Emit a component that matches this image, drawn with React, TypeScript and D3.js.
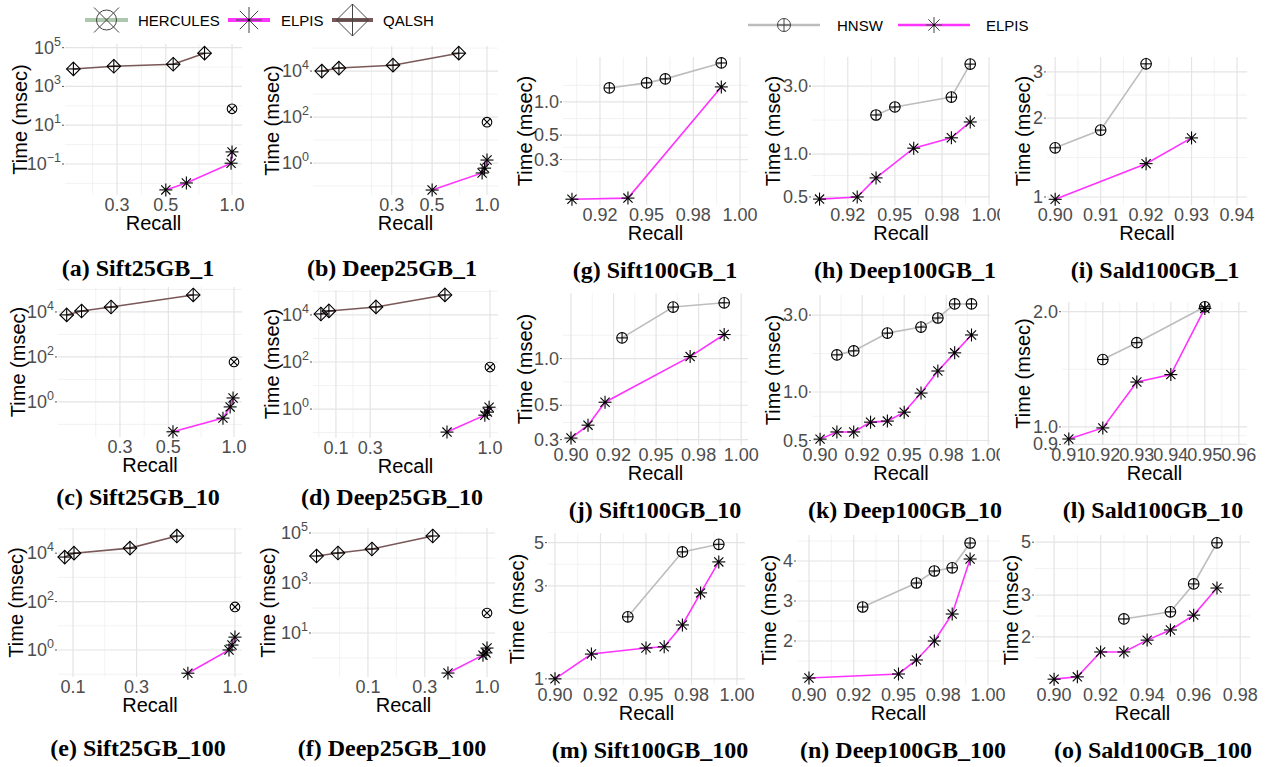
import React from 'react';
import * as d3 from 'd3';

// ---------------- DATA ----------------
// (a) Sift25GB_1
const aQalshRecall = [0.19, 0.29, 0.54, 0.75];
const aQalshTime = [8000, 11000, 14000, 52000];
const aHerculesRecall = [1.0];
const aHerculesTime = [70];
const aElpisRecall = [0.5, 0.62, 0.99, 1.0];
const aElpisTime = [0.0046, 0.0105, 0.11, 0.42];
// (b) Deep25GB_1
const bQalshRecall = [0.124, 0.154, 0.305, 0.7];
const bQalshTime = [10000, 13500, 18000, 60000];
const bHerculesRecall = [1.0];
const bHerculesTime = [60];
const bElpisRecall = [0.5, 0.94, 0.97, 1.0];
const bElpisTime = [0.067, 0.37, 0.6, 1.35];
// (c) Sift25GB_10
const cQalshRecall = [0.171, 0.2, 0.273, 0.65];
const cQalshTime = [7400, 11000, 16600, 57000];
const cHerculesRecall = [1.0];
const cHerculesTime = [60];
const cElpisRecall = [0.525, 0.89, 0.96, 0.99];
const cElpisTime = [0.047, 0.19, 0.6, 1.5];
// (d) Deep25GB_10
const dQalshRecall = [0.012, 0.059, 0.334, 0.737];
const dQalshTime = [11000, 14800, 21900, 70800];
const dHerculesRecall = [1.0];
const dHerculesTime = [61];
const dElpisRecall = [0.749, 0.97, 0.985, 0.995];
const dElpisTime = [0.105, 0.55, 0.74, 1.2];
// (e) Sift25GB_100
const eQalshRecall = [0.084, 0.102, 0.272, 0.518];
const eQalshTime = [6900, 10000, 16200, 51000];
const eHerculesRecall = [1.0];
const eHerculesTime = [60];
const eElpisRecall = [0.593, 0.94, 0.97, 1.0];
const eElpisTime = [0.11, 1.0, 1.6, 3.4];
// (f) Deep25GB_100
const fQalshRecall = [0.037, 0.056, 0.108, 0.35];
const fQalshTime = [12000, 15800, 22900, 75900];
const fHerculesRecall = [1.0];
const fHerculesTime = [63];
const fElpisRecall = [0.47, 0.925, 0.98, 1.0];
const fElpisTime = [0.25, 1.3, 1.6, 2.5];
// (g) Sift100GB_1
const gHnswRecall = [0.93, 0.95, 0.96, 0.99];
const gHnswTime = [1.34, 1.49, 1.62, 2.26];
const gElpisRecall = [0.91, 0.94, 0.99];
const gElpisTime = [0.131, 0.134, 1.37];
// (h) Deep100GB_1
const hHnswRecall = [0.94, 0.95, 0.98, 0.99];
const hHnswTime = [1.88, 2.14, 2.51, 4.28];
const hElpisRecall = [0.91, 0.93, 0.94, 0.96, 0.98, 0.99];
const hElpisTime = [0.483, 0.5, 0.68, 1.1, 1.3, 1.68];
// (i) Sald100GB_1
const iHnswRecall = [0.9, 0.91, 0.92];
const iHnswTime = [1.54, 1.8, 3.22];
const iElpisRecall = [0.9, 0.92, 0.93];
const iElpisTime = [0.98, 1.34, 1.68];
// (j) Sift100GB_10
const jHnswRecall = [0.93, 0.96, 0.99];
const jHnswTime = [1.36, 2.15, 2.29];
const jElpisRecall = [0.9, 0.91, 0.92, 0.97, 0.99];
const jElpisTime = [0.307, 0.372, 0.523, 1.03, 1.43];
// (k) Deep100GB_10
const kHnswRecall = [0.91, 0.92, 0.94, 0.96, 0.97, 0.98, 0.99];
const kHnswTime = [1.7, 1.8, 2.32, 2.53, 2.88, 3.52, 3.52];
const kElpisRecall = [0.9, 0.91, 0.92, 0.93, 0.94, 0.95, 0.96, 0.97, 0.98, 0.99];
const kElpisTime = [0.51, 0.565, 0.565, 0.65, 0.66, 0.75, 0.985, 1.35, 1.75, 2.26];
// (l) Sald100GB_10
const lHnswRecall = [0.92, 0.93, 0.95];
const lHnswTime = [1.5, 1.66, 2.06];
const lElpisRecall = [0.91, 0.92, 0.93, 0.94, 0.95];
const lElpisTime = [0.93, 0.994, 1.31, 1.37, 2.04];
// (m) Sift100GB_100
const mHnswRecall = [0.94, 0.97, 0.99];
const mHnswTime = [2.08, 4.48, 4.9];
const mElpisRecall = [0.9, 0.92, 0.95, 0.96, 0.97, 0.98, 0.99];
const mElpisTime = [1.0, 1.34, 1.44, 1.46, 1.89, 2.76, 3.98];
// (n) Deep100GB_100
const nHnswRecall = [0.93, 0.96, 0.97, 0.98, 0.99];
const nHnswTime = [2.85, 3.45, 3.75, 3.83, 4.45];
const nElpisRecall = [0.9, 0.95, 0.96, 0.97, 0.98, 0.99];
const nElpisTime = [1.075, 1.175, 1.525, 2.0, 2.675, 4.05];
// (o) Sald100GB_100
const oHnswRecall = [0.93, 0.95, 0.96, 0.97];
const oHnswTime = [2.38, 2.55, 3.34, 4.97];
const oElpisRecall = [0.9, 0.91, 0.92, 0.93, 0.94, 0.95, 0.96, 0.97];
const oElpisTime = [1.33, 1.36, 1.73, 1.73, 1.94, 2.14, 2.47, 3.21];

// tick values / labels
const recallTicksA = [0.3, 0.5, 1.0];
const recallLabelsA = ['0.3', '0.5', '1.0'];
const recallTicksB = [0.1, 0.3, 1.0];
const recallLabelsB = ['0.1', '0.3', '1.0'];
const recallTicks100 = [0.9, 0.925, 0.95, 0.975, 1.0];
const recallLabels100 = ['0.90', '0.92', '0.95', '0.98', '1.00'];
const recallTicksI = [0.9, 0.91, 0.92, 0.93, 0.94];
const recallLabelsI = ['0.90', '0.91', '0.92', '0.93', '0.94'];
const recallTicksL = [0.91, 0.92, 0.93, 0.94, 0.95, 0.96];
const recallLabelsL = ['0.91', '0.92', '0.93', '0.94', '0.95', '0.96'];
const recallTicksO = [0.9, 0.92, 0.94, 0.96, 0.98];
const recallLabelsO = ['0.90', '0.92', '0.94', '0.96', '0.98'];

const timeTicksOdd = [0.1, 10, 1000, 100000];
const timeLabelsOdd = ['10^−1', '10^1', '10^3', '10^5'];
const timeTicksEven = [1, 100, 10000];
const timeLabelsEven = ['10^0', '10^2', '10^4'];
const timeTicksF = [10, 1000, 100000];
const timeLabelsF = ['10^1', '10^3', '10^5'];
const timeTicksG = [0.3, 0.5, 1.0];
const timeLabelsG = ['0.3', '0.5', '1.0'];
const timeTicksH = [0.5, 1.0, 3.0];
const timeLabelsH = ['0.5', '1.0', '3.0'];
const timeTicksI = [1, 2, 3];
const timeLabelsI = ['1', '2', '3'];
const timeTicksL = [0.9, 1.0, 2.0];
const timeLabelsL = ['0.9', '1.0', '2.0'];
const timeTicksM = [1, 3, 5];
const timeLabelsM = ['1', '3', '5'];
const timeTicksN = [2, 3, 4];
const timeLabelsN = ['2', '3', '4'];
const timeTicksO = [2, 3, 5];
const timeLabelsO = ['2', '3', '5'];

// ---------------- STYLE ----------------
const SANS = "'Liberation Sans', Arial, Helvetica, sans-serif";
const SERIF = "'Liberation Serif', 'Times New Roman', serif";
const COLORS: Record<string, string> = {
  HERCULES: '#adc8ad',
  ELPIS: '#ff33ff',
  QALSH: '#7b5858',
  HNSW: '#bdbdbd',
};
const MSIZE: Record<string, number> = { HERCULES: 4.8, ELPIS: 6.5, QALSH: 6.8, HNSW: 5.3 };

type Series = { key: string; x: number[]; y: number[] };
type Panel = {
  caption: string; capX: number; capY: number;
  rect: [number, number, number, number];
  clip: [number, number];
  xType: 'log' | 'linear' | 'pow'; xDomain: [number, number]; xTicks: number[]; xLabels: string[];
  yType: 'log' | 'linear'; yDomain: [number, number]; yTicks: number[]; yLabels: string[];
  titleX: number;
  series: Series[];
};

const p10 = (e: number) => Math.pow(10, e);

const panels: Panel[] = [
  { caption: '(a) Sift25GB_1', capX: 138, capY: 268, rect: [65, 44, 242, 195], clip: [0, 258],
    xType: 'log', xDomain: [0.174, 1.11], xTicks: recallTicksA, xLabels: recallLabelsA,
    yType: 'log', yDomain: [p10(-2.6), p10(5.19)], yTicks: timeTicksOdd, yLabels: timeLabelsOdd, titleX: 20,
    series: [{ key: 'QALSH', x: aQalshRecall, y: aQalshTime }, { key: 'HERCULES', x: aHerculesRecall, y: aHerculesTime }, { key: 'ELPIS', x: aElpisRecall, y: aElpisTime }] },
  { caption: '(b) Deep25GB_1', capX: 392, capY: 268, rect: [313, 46, 498, 195], clip: [258, 505],
    xType: 'log', xDomain: [0.111, 1.149], xTicks: recallTicksA, xLabels: recallLabelsA,
    yType: 'log', yDomain: [p10(-1.39), p10(5.09)], yTicks: timeTicksEven, yLabels: timeLabelsEven, titleX: 272,
    series: [{ key: 'QALSH', x: bQalshRecall, y: bQalshTime }, { key: 'HERCULES', x: bHerculesRecall, y: bHerculesTime }, { key: 'ELPIS', x: bElpisRecall, y: bElpisTime }] },
  { caption: '(c) Sift25GB_10', capX: 138, capY: 497, rect: [58, 287, 242, 437], clip: [0, 258],
    xType: 'log', xDomain: [0.156, 1.088], xTicks: recallTicksA, xLabels: recallLabelsA,
    yType: 'log', yDomain: [p10(-1.56), p10(5.11)], yTicks: timeTicksEven, yLabels: timeLabelsEven, titleX: 18,
    series: [{ key: 'QALSH', x: cQalshRecall, y: cQalshTime }, { key: 'HERCULES', x: cHerculesRecall, y: cHerculesTime }, { key: 'ELPIS', x: cElpisRecall, y: cElpisTime }] },
  { caption: '(d) Deep25GB_10', capX: 392, capY: 497, rect: [313, 290, 498, 438], clip: [258, 505],
    xType: 'linear', xDomain: [-0.034, 1.047], xTicks: recallTicksB, xLabels: recallLabelsB,
    yType: 'log', yDomain: [p10(-1.23), p10(5.06)], yTicks: timeTicksEven, yLabels: timeLabelsEven, titleX: 272,
    series: [{ key: 'QALSH', x: dQalshRecall, y: dQalshTime }, { key: 'HERCULES', x: dHerculesRecall, y: dHerculesTime }, { key: 'ELPIS', x: dElpisRecall, y: dElpisTime }] },
  { caption: '(e) Sift25GB_100', capX: 138, capY: 748, rect: [58, 528, 242, 677], clip: [0, 258],
    xType: 'pow', xDomain: [0.0724, 1.074], xTicks: recallTicksB, xLabels: recallLabelsB,
    yType: 'log', yDomain: [p10(-1.116), p10(5.04)], yTicks: timeTicksEven, yLabels: timeLabelsEven, titleX: 16,
    series: [{ key: 'QALSH', x: eQalshRecall, y: eQalshTime }, { key: 'HERCULES', x: eHerculesRecall, y: eHerculesTime }, { key: 'ELPIS', x: eElpisRecall, y: eElpisTime }] },
  { caption: '(f) Deep25GB_100', capX: 392, capY: 748, rect: [312, 528, 495, 677], clip: [258, 505],
    xType: 'log', xDomain: [0.0339, 1.167], xTicks: recallTicksB, xLabels: recallLabelsB,
    yType: 'log', yDomain: [p10(-0.76), p10(5.2)], yTicks: timeTicksF, yLabels: timeLabelsF, titleX: 268,
    series: [{ key: 'QALSH', x: fQalshRecall, y: fQalshTime }, { key: 'HERCULES', x: fHerculesRecall, y: fHerculesTime }, { key: 'ELPIS', x: fElpisRecall, y: fElpisTime }] },
  { caption: '(g) Sift100GB_1', capX: 655, capY: 270, rect: [563, 57, 748, 205], clip: [505, 760],
    xType: 'linear', xDomain: [0.9052, 1.0043], xTicks: recallTicks100, xLabels: recallLabels100,
    yType: 'log', yDomain: [0.116, 2.56], yTicks: timeTicksG, yLabels: timeLabelsG, titleX: 525,
    series: [{ key: 'HNSW', x: gHnswRecall, y: gHnswTime }, { key: 'ELPIS', x: gElpisRecall, y: gElpisTime }] },
  { caption: '(h) Deep100GB_1', capX: 905, capY: 270, rect: [812, 57, 990, 205], clip: [760, 1000],
    xType: 'linear', xDomain: [0.906, 1.0005], xTicks: recallTicks100, xLabels: recallLabels100,
    yType: 'log', yDomain: [0.439, 4.8], yTicks: timeTicksH, yLabels: timeLabelsH, titleX: 773,
    series: [{ key: 'HNSW', x: hHnswRecall, y: hHnswTime }, { key: 'ELPIS', x: hElpisRecall, y: hElpisTime }] },
  { caption: '(i) Sald100GB_1', capX: 1155, capY: 270, rect: [1047, 57, 1247, 205], clip: [1000, 1269],
    xType: 'linear', xDomain: [0.8982, 0.9422], xTicks: recallTicksI, xLabels: recallLabelsI,
    yType: 'log', yDomain: [0.932, 3.42], yTicks: timeTicksI, yLabels: timeLabelsI, titleX: 1023,
    series: [{ key: 'HNSW', x: iHnswRecall, y: iHnswTime }, { key: 'ELPIS', x: iElpisRecall, y: iElpisTime }] },
  { caption: '(j) Sift100GB_10', capX: 655, capY: 510, rect: [563, 293, 748, 445], clip: [505, 760],
    xType: 'linear', xDomain: [0.8953, 1.004], xTicks: recallTicks100, xLabels: recallLabels100,
    yType: 'log', yDomain: [0.277, 2.65], yTicks: timeTicksG, yLabels: timeLabelsG, titleX: 525,
    series: [{ key: 'HNSW', x: jHnswRecall, y: jHnswTime }, { key: 'ELPIS', x: jElpisRecall, y: jElpisTime }] },
  { caption: '(k) Deep100GB_10', capX: 905, capY: 510, rect: [812, 295, 990, 445], clip: [760, 1000],
    xType: 'linear', xDomain: [0.8952, 1.001], xTicks: recallTicks100, xLabels: recallLabels100,
    yType: 'log', yDomain: [0.469, 4.0], yTicks: timeTicksH, yLabels: timeLabelsH, titleX: 773,
    series: [{ key: 'HNSW', x: kHnswRecall, y: kHnswTime }, { key: 'ELPIS', x: kElpisRecall, y: kElpisTime }] },
  { caption: '(l) Sald100GB_10', capX: 1153, capY: 510, rect: [1062, 302, 1247, 445], clip: [1000, 1269],
    xType: 'linear', xDomain: [0.908, 0.9624], xTicks: recallTicksL, xLabels: recallLabelsL,
    yType: 'log', yDomain: [0.897, 2.12], yTicks: timeTicksL, yLabels: timeLabelsL, titleX: 1023,
    series: [{ key: 'HNSW', x: lHnswRecall, y: lHnswTime }, { key: 'ELPIS', x: lElpisRecall, y: lElpisTime }] },
  { caption: '(m) Sift100GB_100', capX: 650, capY: 750, rect: [548, 533, 745, 685], clip: [505, 760],
    xType: 'linear', xDomain: [0.89615, 1.0044], xTicks: recallTicks100, xLabels: recallLabels100,
    yType: 'log', yDomain: [0.93, 5.6], yTicks: timeTicksM, yLabels: timeLabelsM, titleX: 517,
    series: [{ key: 'HNSW', x: mHnswRecall, y: mHnswTime }, { key: 'ELPIS', x: mElpisRecall, y: mElpisTime }] },
  { caption: '(n) Deep100GB_100', capX: 903, capY: 750, rect: [797, 535, 1000, 685], clip: [760, 1012],
    xType: 'linear', xDomain: [0.8933, 1.0067], xTicks: recallTicks100, xLabels: recallLabels100,
    yType: 'linear', yDomain: [0.9, 4.65], yTicks: timeTicksN, yLabels: timeLabelsN, titleX: 769,
    series: [{ key: 'HNSW', x: nHnswRecall, y: nHnswTime }, { key: 'ELPIS', x: nElpisRecall, y: nElpisTime }] },
  { caption: '(o) Sald100GB_100', capX: 1153, capY: 750, rect: [1035, 535, 1250, 685], clip: [1000, 1269],
    xType: 'linear', xDomain: [0.8918, 0.9842], xTicks: recallTicksO, xLabels: recallLabelsO,
    yType: 'log', yDomain: [1.257, 5.36], yTicks: timeTicksO, yLabels: timeLabelsO, titleX: 1011,
    series: [{ key: 'HNSW', x: oHnswRecall, y: oHnswTime }, { key: 'ELPIS', x: oElpisRecall, y: oElpisTime }] },
];

// ---------------- HELPERS ----------------
function makeX(p: Panel) {
  const [L, , R] = p.rect;
  if (p.xType === 'log') return d3.scaleLog().domain(p.xDomain).range([L, R]);
  if (p.xType === 'pow') return d3.scalePow().exponent(0.3).domain(p.xDomain).range([L, R]);
  return d3.scaleLinear().domain(p.xDomain).range([L, R]);
}
function makeY(p: Panel) {
  const [, T, , B] = p.rect;
  if (p.yType === 'log') return d3.scaleLog().domain(p.yDomain).range([B, T]);
  return d3.scaleLinear().domain(p.yDomain).range([B, T]);
}
function within(v: number, dom: [number, number]) {
  const lo = Math.min(dom[0], dom[1]), hi = Math.max(dom[0], dom[1]);
  const eps = (hi - lo) * 1e-4;
  return v >= lo - eps && v <= hi + eps;
}
function minors(major: number[], a: number, b: number) {
  const m = [...major].sort((u, v) => u - v);
  if (m.length < 2) return [];
  const n = m.length;
  const ext = [2 * m[0] - m[1], ...m, 2 * m[n - 1] - m[n - 2]];
  const lo = Math.min(a, b), hi = Math.max(a, b);
  const out: number[] = [];
  for (let i = 0; i < ext.length - 1; i++) {
    const v = (ext[i] + ext[i + 1]) / 2;
    if (v >= lo && v <= hi) out.push(v);
  }
  return out;
}

function Marker({ kind, x, y, r, legend }: { kind: string; x: number; y: number; r: number; legend?: boolean }) {
  const sw = legend ? 1 : 1.1;
  const st = { stroke: legend ? '#444' : '#000', strokeWidth: sw, fill: 'none' } as const;
  if (kind === 'HERCULES') {
    const d = legend ? r * 1.25 : r * 0.72;
    return (
      <g {...st}>
        <circle cx={x} cy={y} r={r} />
        <line x1={x - d} y1={y - d} x2={x + d} y2={y + d} />
        <line x1={x - d} y1={y + d} x2={x + d} y2={y - d} />
      </g>
    );
  }
  if (kind === 'ELPIS') {
    const d = r * Math.SQRT1_2;
    return (
      <g {...st}>
        <line x1={x - r} y1={y} x2={x + r} y2={y} />
        <line x1={x} y1={y - r} x2={x} y2={y + r} />
        <line x1={x - d} y1={y - d} x2={x + d} y2={y + d} />
        <line x1={x - d} y1={y + d} x2={x + d} y2={y - d} />
        <circle cx={x} cy={y} r={1.3} fill="#000" stroke="none" />
      </g>
    );
  }
  if (kind === 'QALSH') {
    return (
      <g {...st}>
        <polygon points={`${x},${y - r} ${x + r},${y} ${x},${y + r} ${x - r},${y}`} />
        <line x1={x - r} y1={y} x2={x + r} y2={y} />
        <line x1={x} y1={y - r} x2={x} y2={y + r} />
      </g>
    );
  }
  // HNSW
  return (
    <g {...st}>
      <circle cx={x} cy={y} r={r} />
      <line x1={x - r} y1={y} x2={x + r} y2={y} />
      <line x1={x} y1={y - r} x2={x} y2={y + r} />
    </g>
  );
}

function TickText({ label, x, y }: { label: string; x: number; y: number }) {
  if (label.includes('^')) {
    const [base, exp] = label.split('^');
    return (
      <text x={x} y={y + 6} textAnchor="end" fontFamily={SANS} fontSize={18} fill="#4d4d4d">
        {base}
        <tspan fontSize={12.5} dy={-8}>{exp}</tspan>
      </text>
    );
  }
  return (
    <text x={x} y={y + 6} textAnchor="end" fontFamily={SANS} fontSize={18} fill="#4d4d4d">{label}</text>
  );
}

function PanelView({ p, idx }: { p: Panel; idx: number }) {
  const [L, T, R, B] = p.rect;
  const xs = makeX(p) as any;
  const ys = makeY(p) as any;
  const xt = p.xTicks.map((v, i) => ({ v, l: p.xLabels[i] })).filter(d => within(d.v, p.xDomain));
  const yt = p.yTicks.map((v, i) => ({ v, l: p.yLabels[i] })).filter(d => within(d.v, p.yDomain));
  const xMaj = xt.map(d => xs(d.v));
  const yMaj = yt.map(d => ys(d.v));
  const xMin = minors(xMaj, L, R);
  const yMin = minors(yMaj, T, B);
  const line = d3.line<[number, number]>().x(d => xs(d[0])).y(d => ys(d[1]));
  const cx = (L + R) / 2, cy = (T + B) / 2;
  const clipId = 'clip' + idx;
  return (
    <g>
      <defs>
        <clipPath id={clipId}>
          <rect x={p.clip[0]} y={0} width={p.clip[1] - p.clip[0]} height={767} />
        </clipPath>
      </defs>
      <g clipPath={`url(#${clipId})`}>
        {xMin.map((px, i) => <line key={'xm' + i} x1={px} x2={px} y1={T} y2={B} stroke="#efefef" strokeWidth={0.8} />)}
        {yMin.map((py, i) => <line key={'ym' + i} x1={L} x2={R} y1={py} y2={py} stroke="#efefef" strokeWidth={0.8} />)}
        {xMaj.map((px, i) => <line key={'xM' + i} x1={px} x2={px} y1={T} y2={B} stroke="#e4e4e4" strokeWidth={1.2} />)}
        {yMaj.map((py, i) => <line key={'yM' + i} x1={L} x2={R} y1={py} y2={py} stroke="#e4e4e4" strokeWidth={1.2} />)}
        {yt.map((d, i) => (
          <g key={'yt' + i}>
            <line x1={L - 3} x2={L - 1} y1={ys(d.v)} y2={ys(d.v)} stroke="#555" strokeWidth={1} />
            <TickText label={d.l} x={L - 4} y={ys(d.v)} />
          </g>
        ))}
        {xt.map((d, i) => (
          <text key={'xt' + i} x={xs(d.v)} y={B + 16} textAnchor="middle" fontFamily={SANS} fontSize={18} fill="#4d4d4d">{d.l}</text>
        ))}
        <text x={cx} y={B + 35} textAnchor="middle" fontFamily={SANS} fontSize={20} fill="#000">Recall</text>
        <text transform={`translate(${p.titleX},${cy}) rotate(-90)`} textAnchor="middle" dy={7} fontFamily={SANS} fontSize={20} fill="#000">Time (msec)</text>
        {p.series.map(s => s.x.length > 1 && (
          <path key={'l' + s.key} d={line(s.x.map((v, i) => [v, s.y[i]] as [number, number])) || ''} fill="none" stroke={COLORS[s.key]} strokeWidth={1.6} />
        ))}
        {p.series.map(s => s.x.map((v, i) => (
          <Marker key={s.key + i} kind={s.key} x={xs(v)} y={ys(s.y[i])} r={MSIZE[s.key]} />
        )))}
      </g>
      <text x={p.capX} y={p.capY + 8} textAnchor="middle" fontFamily={SERIF} fontWeight="bold" fontSize={24} fill="#000">{p.caption}</text>
    </g>
  );
}

function LegendItem({ kind, x1, x2, y, r, w, tx, lineColor }: any) {
  return (
    <g>
      <line x1={x1} x2={x2} y1={y} y2={y} stroke={lineColor} strokeWidth={w} />
      <Marker kind={kind} x={(x1 + x2) / 2} y={y} r={r} legend />
      <text x={tx} y={y + 5.5} fontFamily={SANS} fontSize={15} fill="#000">{kind}</text>
    </g>
  );
}

export default function App() {
  return (
    <svg width={1269} height={767} style={{ position: 'absolute', left: 0, top: 0, background: '#fff' }}>
      <rect x={0} y={0} width={1269} height={767} fill="#fff" />
      <LegendItem kind="HERCULES" x1={85} x2={128} y={20} r={10} w={4} tx={138} lineColor={COLORS.HERCULES} />
      <LegendItem kind="ELPIS" x1={228} x2={270} y={20} r={13} w={4} tx={281} lineColor={COLORS.ELPIS} />
      <LegendItem kind="QALSH" x1={332} x2={373} y={20} r={16} w={4} tx={383} lineColor={COLORS.QALSH} />
      <LegendItem kind="HNSW" x1={748} x2={820} y={25} r={6.5} w={2.5} tx={837} lineColor={COLORS.HNSW} />
      <LegendItem kind="ELPIS" x1={898} x2={970} y={25} r={8} w={2.5} tx={986} lineColor={COLORS.ELPIS} />
      {panels.map((p, i) => <PanelView key={i} p={p} idx={i} />)}
    </svg>
  );
}
